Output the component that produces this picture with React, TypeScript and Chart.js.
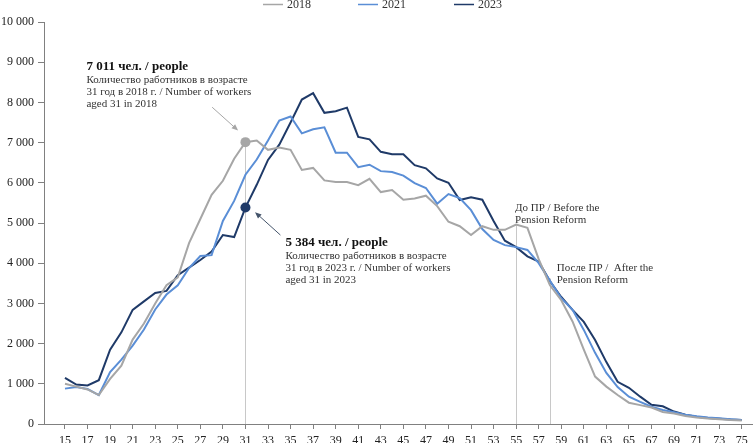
import { useEffect, useRef } from "react";
import { Chart, registerables } from "chart.js";
Chart.register(...registerables);

const SERIF = "'Liberation Serif', 'Times New Roman', serif";

// age of workers, 15..75
const ages = [
  15, 16, 17, 18, 19, 20, 21, 22, 23, 24, 25, 26, 27, 28, 29, 30, 31, 32, 33, 34, 35,
  36, 37, 38, 39, 40, 41, 42, 43, 44, 45, 46, 47, 48, 49, 50, 51, 52, 53, 54, 55,
  56, 57, 58, 59, 60, 61, 62, 63, 64, 65, 66, 67, 68, 69, 70, 71, 72, 73, 74, 75,
];
const xTicks = [15, 17, 19, 21, 23, 25, 27, 29, 31, 33, 35, 37, 39, 41, 43, 45, 47, 49, 51, 53, 55, 57, 59, 61, 63, 65, 67, 69, 71, 73, 75];

const workers2018 = [
  1000, 930, 860, 720, 1120, 1450, 2100, 2500, 3000, 3450, 3650, 4500, 5100, 5700, 6050, 6600, 7011, 7050, 6820, 6880, 6820,
  6320, 6370, 6060, 6020, 6020, 5940, 6100, 5770, 5820, 5580, 5610, 5680, 5420, 5030, 4920, 4700, 4920, 4830, 4830, 4960,
  4880, 4100, 3450, 3080, 2550, 1850, 1180, 930, 720, 530, 470, 410, 300, 260, 200, 160, 135, 120, 100, 90,
];
const workers2021 = [
  880, 920, 870, 720, 1290, 1600, 1950, 2350, 2850, 3220, 3450, 3880, 4180, 4200, 5050, 5550, 6200, 6580, 7050, 7550, 7650,
  7230, 7330, 7380, 6750, 6750, 6390, 6450, 6290, 6270, 6180, 5990, 5870, 5480, 5720, 5620, 5320, 4850, 4580, 4450, 4400,
  4330, 4000, 3560, 3130, 2840, 2340, 1770, 1270, 920, 680, 550, 430, 350, 290, 230, 190, 160, 140, 120, 100,
];
const workers2023 = [
  1150, 980, 960, 1090, 1850, 2280, 2840, 3050, 3260, 3310, 3700, 3890, 4080, 4290, 4700, 4650, 5384, 5950, 6570, 6950, 7500,
  8070, 8230, 7740, 7780, 7870, 7140, 7080, 6770, 6710, 6710, 6440, 6360, 6110, 6000, 5570, 5640, 5580, 5050, 4560, 4400,
  4170, 4040, 3550, 3160, 2840, 2540, 2090, 1540, 1050, 900, 680, 480, 440, 310, 230, 180, 150, 130, 110, 100,
];

const seriesNames = ["2018", "2021", "2023"];
const seriesColors = ["#A6A6A6", "#5A8ED6", "#1F3A68"];

// highlighted age and vertical guide lines (age, top value)
const highlightAge = 31;
const guideAges = [31, 55, 58];
const guideTops = [7011, 4960, 3620];

const notes = [
  {
    age: 16.9, value: 8880,
    lines: ["7 011 чел. / people", "Количество работников в возрасте", "31 год в 2018 г. / Number of workers", "aged 31 in 2018"],
  },
  {
    age: 34.55, value: 4500,
    lines: ["5 384 чел. / people", "Количество работников в возрасте", "31 год в 2023 г. / Number of workers", "aged 31 in 2023"],
  },
  { age: 54.9, value: 5700, lines: ["", "До ПР / Before the", "Pension Reform"] },
  { age: 58.6, value: 4200, lines: ["", "После ПР /  After the", "Pension Reform"] },
];

const arrows = [
  { from: [28.05, 7880], to: [30.35, 7300], color: "#A6A6A6" },
  { from: [34.1, 4700], to: [31.85, 5270], color: "#44546A" },
];

const fmt = (v: number) => String(v).replace(/\B(?=(\d{3})+(?!\d))/g, " ");

const overlay = {
  id: "overlay",
  beforeDatasetsDraw(chart: any) {
    const { ctx, scales } = chart;
    const { x, y } = scales;
    ctx.save();
    ctx.strokeStyle = "#C8C8C8";
    ctx.lineWidth = 1;
    guideAges.forEach((age, i) => {
      const px = Math.round(x.getPixelForValue(age)) + 0.5;
      ctx.beginPath();
      ctx.moveTo(px, y.getPixelForValue(guideTops[i]));
      ctx.lineTo(px, y.getPixelForValue(0));
      ctx.stroke();
    });
    ctx.restore();
  },
  afterDatasetsDraw(chart: any) {
    const { ctx, scales } = chart;
    const { x, y } = scales;
    ctx.save();

    arrows.forEach((a) => {
      const x1 = x.getPixelForValue(a.from[0]);
      const y1 = y.getPixelForValue(a.from[1]);
      const x2 = x.getPixelForValue(a.to[0]);
      const y2 = y.getPixelForValue(a.to[1]);
      const ang = Math.atan2(y2 - y1, x2 - x1);
      ctx.strokeStyle = a.color;
      ctx.fillStyle = a.color;
      ctx.lineWidth = 1;
      ctx.beginPath();
      ctx.moveTo(x1, y1);
      ctx.lineTo(x2 - 5 * Math.cos(ang), y2 - 5 * Math.sin(ang));
      ctx.stroke();
      ctx.beginPath();
      ctx.moveTo(x2, y2);
      ctx.lineTo(x2 - 7 * Math.cos(ang - 0.4), y2 - 7 * Math.sin(ang - 0.4));
      ctx.lineTo(x2 - 7 * Math.cos(ang + 0.4), y2 - 7 * Math.sin(ang + 0.4));
      ctx.closePath();
      ctx.fill();
    });

    ctx.textBaseline = "middle";
    ctx.textAlign = "left";
    notes.forEach((n) => {
      const px = x.getPixelForValue(n.age);
      const py = y.getPixelForValue(n.value);
      n.lines.forEach((line, i) => {
        if (!line) return;
        if (i === 0) {
          ctx.font = `bold 13px ${SERIF}`;
          ctx.fillStyle = "#111";
          ctx.fillText(line, px, py);
        } else {
          ctx.font = `11px ${SERIF}`;
          ctx.fillStyle = "#333";
          ctx.fillText(line, px, py + 1 + i * 12);
        }
      });
    });

    // legend
    const legendX = [263, 358, 454];
    ctx.font = `12px ${SERIF}`;
    ctx.textBaseline = "alphabetic";
    chart.data.datasets.forEach((ds: any, i: number) => {
      ctx.strokeStyle = ds.borderColor;
      ctx.lineWidth = 1.5;
      ctx.beginPath();
      ctx.moveTo(legendX[i], 4.5);
      ctx.lineTo(legendX[i] + 20, 4.5);
      ctx.stroke();
      ctx.fillStyle = "#333";
      ctx.fillText(ds.label, legendX[i] + 24, 8);
    });
    ctx.restore();
  },
};

export default function App() {
  const canvasRef = useRef<HTMLCanvasElement | null>(null);

  useEffect(() => {
    if (!canvasRef.current) return;
    const series = [workers2018, workers2021, workers2023];

    const chart = new Chart(canvasRef.current, {
      type: "line",
      data: {
        datasets: series.map((vals, i) => ({
          label: seriesNames[i],
          data: ages.map((a, j) => ({ x: a, y: vals[j] })),
          borderColor: seriesColors[i],
          backgroundColor: seriesColors[i],
          borderWidth: 2,
          tension: 0,
          pointRadius: (c: any) => (i !== 1 && ages[c.dataIndex] === highlightAge ? 5 : 0),
          pointHoverRadius: 0,
          pointBorderWidth: 0,
        })),
      },
      options: {
        responsive: false,
        animation: false,
        layout: { padding: { top: 22, right: 0, left: 0, bottom: 0 } },
        plugins: { legend: { display: false }, tooltip: { enabled: false } },
        scales: {
          x: {
            type: "linear",
            min: 13.14,
            max: 76,
            afterBuildTicks: (s: any) => {
              s.ticks = xTicks.map((v) => ({ value: v }));
            },
            afterFit: (s: any) => {
              s.height = 19;
            },
            border: { color: "#808080", width: 1 },
            grid: { drawOnChartArea: false, drawTicks: true, tickLength: 5, color: "#808080" },
            ticks: {
              autoSkip: false,
              maxRotation: 0,
              padding: 5,
              color: "#222",
              font: { family: SERIF, size: 12 },
              callback: (v: any) => String(v),
            },
          },
          y: {
            min: 0,
            max: 10000,
            afterFit: (s: any) => {
              s.width = 44;
            },
            border: { color: "#808080", width: 1 },
            grid: { drawOnChartArea: false, drawTicks: true, tickLength: 6, color: "#808080" },
            ticks: {
              stepSize: 1000,
              padding: 4,
              color: "#222",
              font: { family: SERIF, size: 12 },
              callback: (v: any) => fmt(Number(v)),
            },
          },
        },
      },
      plugins: [overlay],
    });

    return () => chart.destroy();
  }, []);

  return (
    <div style={{ position: "fixed", left: 0, top: 0, width: 753, height: 443, background: "#fff" }}>
      <canvas ref={canvasRef} width={753} height={443} />
    </div>
  );
}
